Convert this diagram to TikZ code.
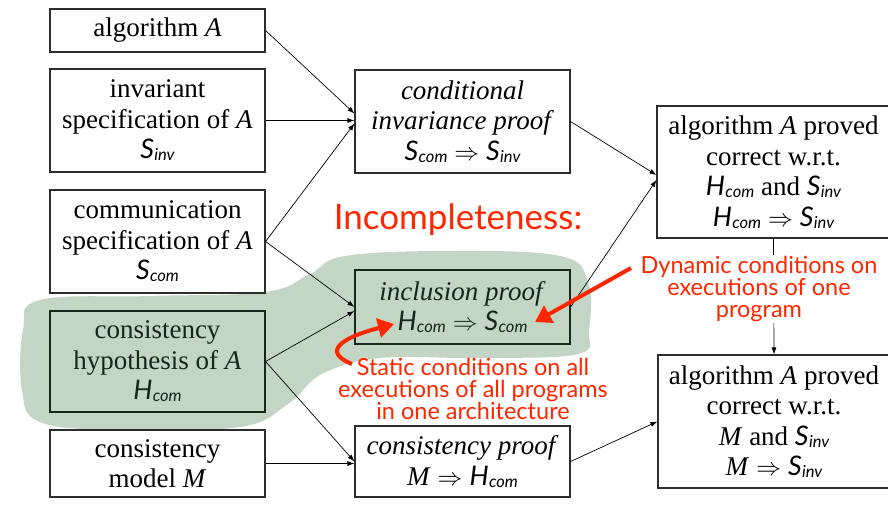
\documentclass[tikz,border=0pt]{standalone}
\usepackage{fontspec}
\setmainfont{Liberation Serif}
\newfontfamily\gill{Lato}
\usetikzlibrary{arrows.meta}
\definecolor{alert}{RGB}{255,38,0}
\definecolor{blob}{RGB}{195,214,198}
\definecolor{frame}{RGB}{45,45,45}
\definecolor{inkgreen}{RGB}{22,38,26}
% sans italic variable with a small lowered index
\newcommand\sv[2]{{\gill\itshape\fontsize{27}{27}\selectfont #1\kern0.3pt\raisebox{-2pt}{\fontsize{16.5}{16.5}\selectfont #2}}}
\newcommand\imp{\ensuremath{\;\Rightarrow\;}}
\tikzset{
  box/.style={draw=frame, line width=1.1pt, fill=white, align=center, inner sep=0pt,
    font=\fontsize{27}{30.5}\selectfont},
  shaded/.style={box, fill=none, draw=inkgreen, text=inkgreen},
  link/.style={-{Latex[length=7pt,width=5pt]}, line width=0.7pt},
  redarrow/.style={draw=alert, line width=4pt, -{Triangle[length=16pt,width=19pt]}},
  note/.style={text=alert, align=center, font=\gill\fontsize{23.5}{21.8}\selectfont},
}
\begin{document}
\begin{tikzpicture}[x=1pt,y=-1pt]
\useasboundingbox (0,0) rectangle (888,509);
\clip (0,0) rectangle (888,509);

% highlighted region behind the hypothesis and inclusion proof
\fill[blob] plot[smooth cycle, tension=0.65] coordinates {
  (40,300) (150,296) (265,292) (310,274) (345,256) (450,251) (560,256)
  (588,282) (589,330) (578,354) (480,358) (380,358) (322,374) (288,404)
  (240,427) (120,430) (40,422) (22,390) (23,330)};

% left column
\node[box, minimum width=215pt, minimum height=43pt]  (alg)   at (157.5,30.5)  {algorithm \textit{A}};
\node[box, minimum width=215pt, minimum height=103pt] (inv)   at (157.5,120.5) {invariant\\specification of \textit{A}\\\sv{S}{inv}};
\node[box, minimum width=215pt, minimum height=103pt] (comm)  at (157.5,241.5) {communication\\specification of \textit{A}\\\sv{S}{com}};
\node[shaded, minimum width=215pt, minimum height=101pt] (hyp) at (157.5,361.5) {consistency\\hypothesis of \textit{A}\\\sv{H}{com}};
\node[box, minimum width=215pt, minimum height=67pt]  (model) at (157.5,463.5) {consistency\\model \textit{M}};

% proofs
\node[box, minimum width=215pt, minimum height=103pt] (cond) at (462.5,121.5) {\textit{conditional}\\\textit{invariance proof}\\\sv{S}{com}\imp\sv{S}{inv}};
\node[shaded, minimum width=215pt, minimum height=74pt] (incl) at (462.5,307) {\textit{inclusion proof}\\\sv{H}{com}\imp\sv{S}{com}};
\node[box, minimum width=215pt, minimum height=71pt]  (cons) at (462.5,461.5) {\textit{consistency proof}\\\textit{M}\imp\sv{H}{com}};

% results
\node[box, minimum width=233pt, minimum height=132pt] (res1) at (773.5,172) {algorithm \textit{A} proved\\correct w.r.t.\\\sv{H}{com} and \sv{S}{inv}\\\sv{H}{com}\imp\sv{S}{inv}};
\node[box, minimum width=232pt, minimum height=133pt] (res2) at (774,421.5) {algorithm \textit{A} proved\\correct w.r.t.\\\textit{M} and \sv{S}{inv}\\\textit{M}\imp\sv{S}{inv}};

% connectors
\draw[link] (alg.east)  -- ([yshift=8pt]cond.west);
\draw[link] (inv.east)  -- (cond.west |- inv.east);
\draw[link] (comm.east) -- ([yshift=-2pt]cond.west);
\draw[link] (comm.east) -- (incl.west);
\draw[link] (hyp.east)  -- ([yshift=-4pt]incl.west);
\draw[link] (hyp.east)  -- (cons.west);
\draw[link] (model.east) -- (cons.west |- model.east);
\draw[link] (cond.east) -- ([yshift=-3pt]res1.west);
\draw[link] (incl.east) -- ([yshift=-8pt]res1.west);
\draw[link] (cons.east) -- (res2.west);
\draw[link] (res1.south) -- (res2.north);

% annotations
\node[text=alert, font=\gill\fontsize{35}{38}\selectfont] (incomp) at (458,220) {Incompleteness:};
\node[note, fill=white, inner sep=1pt] (dyn) at (759,289) {Dynamic conditions on\\executions of one\\program};
\node[note] (stat) at (473,389) {Static conditions on all\\executions of all programs\\in one architecture};

\coordinate (dynTail) at (631,268);
\coordinate (dynTip)  at (535,322);
\draw[redarrow] (dynTail) -- (dynTip);
\coordinate (statTail) at (352,364);
\coordinate (statTip)  at (394,324);
\draw[redarrow] (statTail) .. controls (322,352) and (340,338) .. (statTip);
\end{tikzpicture}
\end{document}
